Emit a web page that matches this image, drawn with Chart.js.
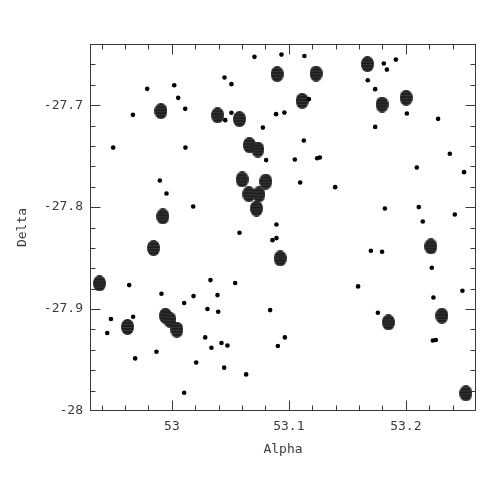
<!DOCTYPE html>
<html><head><meta charset="utf-8">
<script src="https://cdn.jsdelivr.net/npm/chart.js@4"></script>
<style>html,body{margin:0;padding:0;background:#fff}#wrap{width:491px;height:491px}</style>
</head><body><div id="wrap"><canvas id="c" width="491" height="491"></canvas></div>
<script>
// Axis ranges and tick labels
const xRange = [52.93, 53.26];
const yRange = [-28, -27.64];
const xTickValues = [53, 53.1, 53.2];
const yTickValues = [-28, -27.9, -27.8, -27.7];
const minorStep = 0.02;

// Bright sources (large blobs)
const brightAlpha = [52.9906,53.0391,52.9923,53.0900,53.1233,53.1114,53.0578,53.0663,53.0735,53.0601,
  53.0803,53.0658,53.0744,53.0723,53.1672,53.1797,53.2003,52.9843,52.9381,52.9621,
  52.9945,52.9983,53.0043,53.0926,53.2214,53.1851,53.2308,53.2513];
const brightDelta = [-27.7059,-27.7100,-27.8092,-27.6696,-27.6690,-27.6958,-27.7137,-27.7392,-27.7435,-27.7729,
  -27.7749,-27.7873,-27.7876,-27.8014,-27.6598,-27.6994,-27.6928,-27.8402,-27.8749,-27.9176,
  -27.9066,-27.9105,-27.9203,-27.8504,-27.8386,-27.9131,-27.9066,-27.9827];

// Faint sources (small dots)
const faintAlpha = [52.9789,53.0020,53.0054,53.0114,52.9667,52.9498,53.0116,52.9897,52.9954,53.0182,
  53.0706,53.0937,53.1133,53.0450,53.0509,53.1171,53.0456,53.0509,53.0891,53.0962,
  53.0778,53.1128,53.0806,53.1051,53.1242,53.1265,53.1097,53.1396,53.0894,53.1812,
  53.1915,53.1838,53.1675,53.1738,53.2009,53.2276,53.1738,53.2376,53.2094,53.2498,
  53.1821,53.2111,53.2419,53.2145,52.9635,52.9911,53.0105,53.0185,53.0330,53.0390,
  53.0304,53.0396,52.9479,52.9669,52.9447,53.0285,53.0338,52.9868,52.9686,53.0208,
  53.0105,53.0578,53.0860,53.0894,53.0541,53.0840,53.0424,53.0475,53.0966,53.0906,
  53.0447,53.0635,53.1701,53.1797,53.2222,53.1592,53.2484,53.2236,53.1761,53.2231,
  53.2256];
const faintDelta = [-27.6840,-27.6804,-27.6928,-27.7036,-27.7095,-27.7416,-27.7416,-27.7739,-27.7867,-27.7994,
  -27.6526,-27.6504,-27.6517,-27.6729,-27.6794,-27.6941,-27.7147,-27.7075,-27.7088,-27.7073,
  -27.7220,-27.7347,-27.7539,-27.7533,-27.7520,-27.7514,-27.7759,-27.7804,-27.8171,-27.6592,
  -27.6553,-27.6651,-27.6755,-27.6843,-27.7082,-27.7134,-27.7213,-27.7477,-27.7612,-27.7657,
  -27.8014,-27.8000,-27.8073,-27.8141,-27.8765,-27.8850,-27.8941,-27.8873,-27.8716,-27.8863,
  -27.9000,-27.9026,-27.9098,-27.9075,-27.9235,-27.9278,-27.9379,-27.9419,-27.9484,-27.9524,
  -27.9821,-27.8252,-27.8324,-27.8304,-27.8745,-27.9010,-27.9333,-27.9357,-27.9278,-27.9363,
  -27.9575,-27.9641,-27.8428,-27.8438,-27.8595,-27.8778,-27.8821,-27.8886,-27.9036,-27.9308,
  -27.9304];

function makeBlob(){
  const c = document.createElement('canvas');
  c.width = 13; c.height = 16;
  const g = c.getContext('2d');
  g.beginPath(); g.ellipse(6.5, 8, 6.5, 8, 0, 0, Math.PI*2);
  g.fillStyle = '#1e1e1e'; g.fill();
  g.save(); g.clip();
  g.fillStyle = 'rgba(110,110,110,0.35)';
  for (let yy = 2; yy < 15; yy += 3) g.fillRect(0, yy, 13, 1);
  g.restore();
  return c;
}

const toPts = (xs, ys) => xs.map((v, i) => ({x: v, y: ys[i]}));
const axisColor = '#3a3a3a';
const fontSpec = {family: 'DejaVu Sans Mono', size: 13};

const frameTicks = {
  id: 'frameTicks',
  afterDraw(chart){
    const {ctx, chartArea: a, scales: {x, y}} = chart;
    ctx.save();
    ctx.strokeStyle = axisColor; ctx.lineWidth = 1;
    const L = Math.round(a.left)+0.5, R = Math.round(a.right)-0.5, T = Math.round(a.top)+0.5, B = Math.round(a.bottom)-0.5;
    ctx.strokeRect(L, T, R-L, B-T);
    ctx.beginPath();
    const isMajor = (v, list) => list.some(t => Math.abs(t - v) < 1e-9);
    for (let i = Math.ceil(xRange[0]/minorStep - 1e-6); i <= Math.floor(xRange[1]/minorStep + 1e-6); i++){
      const v = i*minorStep; const px = Math.round(x.getPixelForValue(v))+0.5;
      if (px <= L + 1 || px >= R - 1) continue;
      const len = isMajor(Math.round(v*1000)/1000, xTickValues) ? 10 : 5;
      ctx.moveTo(px, B); ctx.lineTo(px, B-len);
      ctx.moveTo(px, T); ctx.lineTo(px, T+len);
    }
    for (let i = Math.ceil(yRange[0]/minorStep - 1e-6); i <= Math.floor(yRange[1]/minorStep + 1e-6); i++){
      const v = i*minorStep; const py = Math.round(y.getPixelForValue(v))+0.5;
      if (py <= T + 1 || py >= B - 1) continue;
      const len = isMajor(Math.round(v*1000)/1000, yTickValues) ? 10 : 5;
      ctx.moveTo(L, py); ctx.lineTo(L+len, py);
      ctx.moveTo(R, py); ctx.lineTo(R-len, py);
    }
    ctx.stroke();
    ctx.restore();
  }
};

new Chart(document.getElementById('c'), {
  type: 'scatter',
  data: {datasets: [
    {label: 'faint', data: toPts(faintAlpha, faintDelta), pointRadius: 2.3, pointBackgroundColor: '#000', pointBorderWidth: 0, pointHoverRadius: 2.3},
    {label: 'bright', data: toPts(brightAlpha, brightDelta), pointStyle: makeBlob(), pointRadius: 7, pointHoverRadius: 7}
  ]},
  options: {
    responsive: false, animation: false, devicePixelRatio: 1,
    events: [],
    layout: {padding: {left: 0, right: 15, top: 44, bottom: 0}},
    plugins: {legend: {display: false}, tooltip: {enabled: false}},
    scales: {
      x: {type: 'linear', min: xRange[0], max: xRange[1],
        afterBuildTicks: s => { s.ticks = xTickValues.map(v => ({value: v})); },
        afterFit: s => { s.height = 80; },
        ticks: {callback: v => String(v), font: fontSpec, color: axisColor, padding: 8, maxRotation: 0, autoSkip: false},
        grid: {display: false, drawTicks: false}, border: {display: false},
        title: {display: true, text: 'Alpha', font: fontSpec, color: axisColor, padding: {top: 0, bottom: 34}}
      },
      y: {type: 'linear', min: yRange[0], max: yRange[1],
        afterBuildTicks: s => { s.ticks = yTickValues.map(v => ({value: v})); },
        afterFit: s => { s.width = 90; },
        ticks: {callback: v => String(v), font: fontSpec, color: axisColor, padding: 7, autoSkip: false},
        grid: {display: false, drawTicks: false}, border: {display: false},
        title: {display: true, text: 'Delta', font: fontSpec, color: axisColor, padding: {top: 15, bottom: 0}}
      }
    }
  },
  plugins: [frameTicks]
});
</script></body></html>
